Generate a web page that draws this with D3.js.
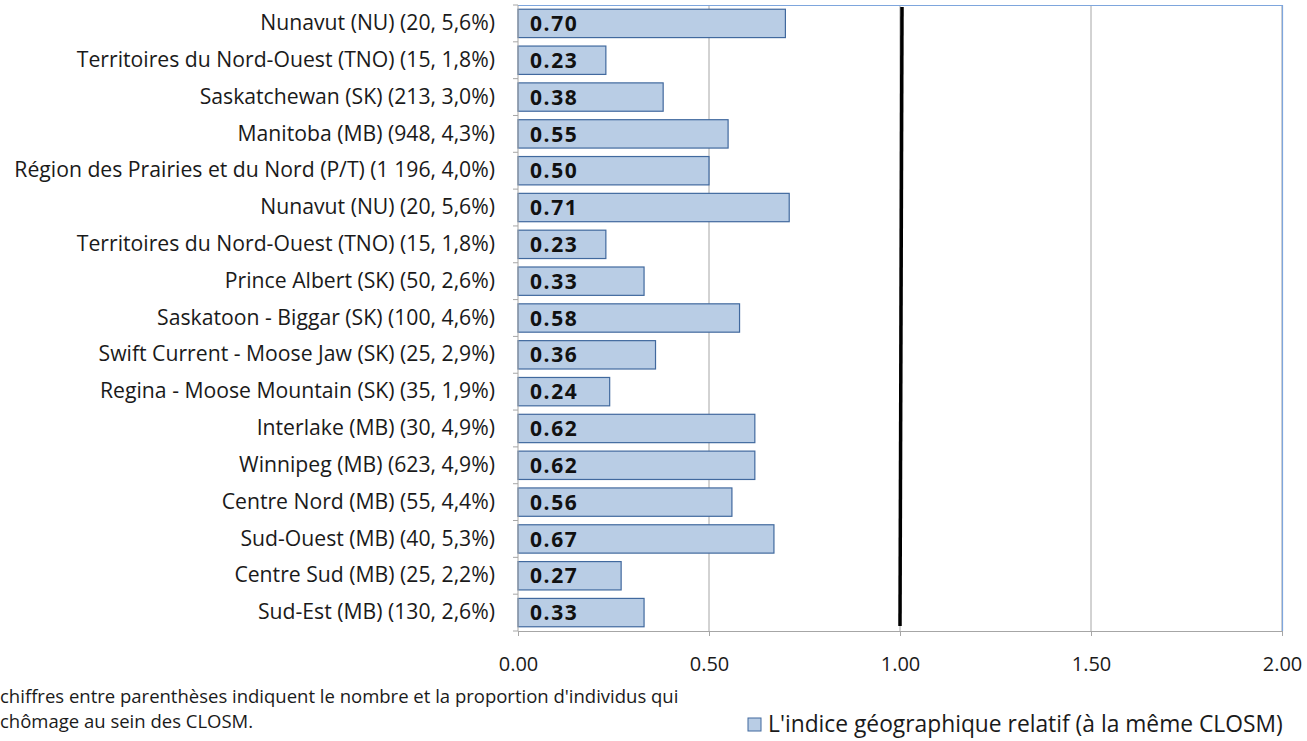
<!DOCTYPE html>
<html><head><meta charset="utf-8">
<script src="https://cdn.jsdelivr.net/npm/d3@7"></script>
<style>body{margin:0;background:#fff}svg{display:block}</style>
</head><body>
<svg id="c" width="1307" height="741"></svg>
<script>
const categories = [
 "Nunavut (NU) (20, 5,6%)",
 "Territoires du Nord-Ouest (TNO) (15, 1,8%)",
 "Saskatchewan (SK) (213, 3,0%)",
 "Manitoba (MB) (948, 4,3%)",
 "Région des Prairies et du Nord (P/T) (1 196, 4,0%)",
 "Nunavut (NU) (20, 5,6%)",
 "Territoires du Nord-Ouest (TNO) (15, 1,8%)",
 "Prince Albert (SK) (50, 2,6%)",
 "Saskatoon - Biggar (SK) (100, 4,6%)",
 "Swift Current - Moose Jaw (SK) (25, 2,9%)",
 "Regina - Moose Mountain (SK) (35, 1,9%)",
 "Interlake (MB) (30, 4,9%)",
 "Winnipeg (MB) (623, 4,9%)",
 "Centre Nord (MB) (55, 4,4%)",
 "Sud-Ouest (MB) (40, 5,3%)",
 "Centre Sud (MB) (25, 2,2%)",
 "Sud-Est (MB) (130, 2,6%)"
];
const values = [0.70,0.23,0.38,0.55,0.50,0.71,0.23,0.33,0.58,0.36,0.24,0.62,0.62,0.56,0.67,0.27,0.33];
const xTicks = [0, 0.5, 1.0, 1.5, 2.0];
const refValue = 1.0;
const legendLabel = "L'indice géographique relatif (à la même CLOSM)";
const footnote = ["chiffres entre parenthèses indiquent le nombre et la proportion d'individus qui",
                  "chômage au sein des CLOSM."];

const svg = d3.select("#c");
const L = 518, R = 1282, T = 5, B = 631;
const font = "'Open Sans', 'Noto Sans', sans-serif";

const x = d3.scaleLinear().domain([0, 2]).range([L, R]);
const y = d3.scaleBand().domain(d3.range(categories.length)).range([T, B]).paddingInner(0.23).paddingOuter(0.115);

// gridlines
svg.append("g").selectAll("line").data(xTicks.slice(1)).join("line")
  .attr("x1", d => x(d)).attr("x2", d => x(d)).attr("y1", T).attr("y2", B)
  .attr("stroke", "#a6a6a6").attr("stroke-width", 1);

// plot border top and right (blue)
svg.append("path").attr("d", `M${L},${T+0.5}H${R+0.5}V${B}`)
  .attr("fill", "none").attr("stroke", "#7ea6dd").attr("stroke-width", 1.2);

// bars
svg.append("g").selectAll("rect").data(values).join("rect")
  .attr("x", x(0)).attr("y", (d,i) => y(i))
  .attr("width", d => x(d) - x(0)).attr("height", y.bandwidth())
  .attr("fill", "#b9cde5").attr("stroke", "#41699e").attr("stroke-width", 1.2);

// value labels
svg.append("g").selectAll("text").data(values).join("text")
  .attr("x", x(0) + 12).attr("y", (d,i) => y(i) + y.bandwidth()/2 + 2)
  .attr("dominant-baseline", "middle")
  .attr("font-family", font).attr("font-weight", "bold").attr("font-size", 21)
  .attr("letter-spacing", 1.6)
  .attr("fill", "#111").text(d => d.toFixed(2));

// reference line
svg.append("line").attr("x1", x(refValue) + 2).attr("x2", x(refValue))
  .attr("y1", T + 2).attr("y2", B - 5)
  .attr("stroke", "#000").attr("stroke-width", 3.5);

// y axis
svg.append("line").attr("x1", L).attr("x2", L).attr("y1", T).attr("y2", B).attr("stroke", "#a6a6a6");
const step = (B - T) / categories.length;
svg.append("g").selectAll("line").data(d3.range(categories.length + 1)).join("line")
  .attr("x1", L - 5).attr("x2", L).attr("y1", i => T + i * step).attr("y2", i => T + i * step)
  .attr("stroke", "#a6a6a6");
svg.append("g").selectAll("text").data(categories).join("text")
  .attr("x", 495).attr("y", (d,i) => y(i) + y.bandwidth()/2 + 1)
  .attr("text-anchor", "end").attr("dominant-baseline", "middle")
  .attr("font-family", font).attr("font-size", 21.2).attr("fill", "#1a1a1a").text(d => d);

// x axis
const xAxis = d3.axisBottom(x).tickValues(xTicks).tickFormat(d3.format(".2f")).tickSize(5).tickPadding(21);
const gx = svg.append("g").attr("transform", `translate(0,${B})`).call(xAxis);
gx.select(".domain").attr("stroke", "#a6a6a6");
gx.selectAll(".tick line").attr("stroke", "#a6a6a6");
gx.selectAll(".tick text").attr("font-family", font).attr("font-size", 20).attr("fill", "#1a1a1a");

// footnote
svg.append("g").selectAll("text").data(footnote).join("text")
  .attr("x", 0).attr("y", (d,i) => 703 + i * 25)
  .attr("font-family", font).attr("font-size", 18.5).attr("fill", "#1a1a1a").text(d => d);

// legend
svg.append("rect").attr("x", 748).attr("y", 718).attr("width", 13).attr("height", 13)
  .attr("fill", "#b9cde5").attr("stroke", "#41699e").attr("stroke-width", 1);
svg.append("text").attr("x", 768).attr("y", 732)
  .attr("font-family", font).attr("font-size", 22.8).attr("fill", "#1a1a1a").text(legendLabel);
</script>
</body></html>
